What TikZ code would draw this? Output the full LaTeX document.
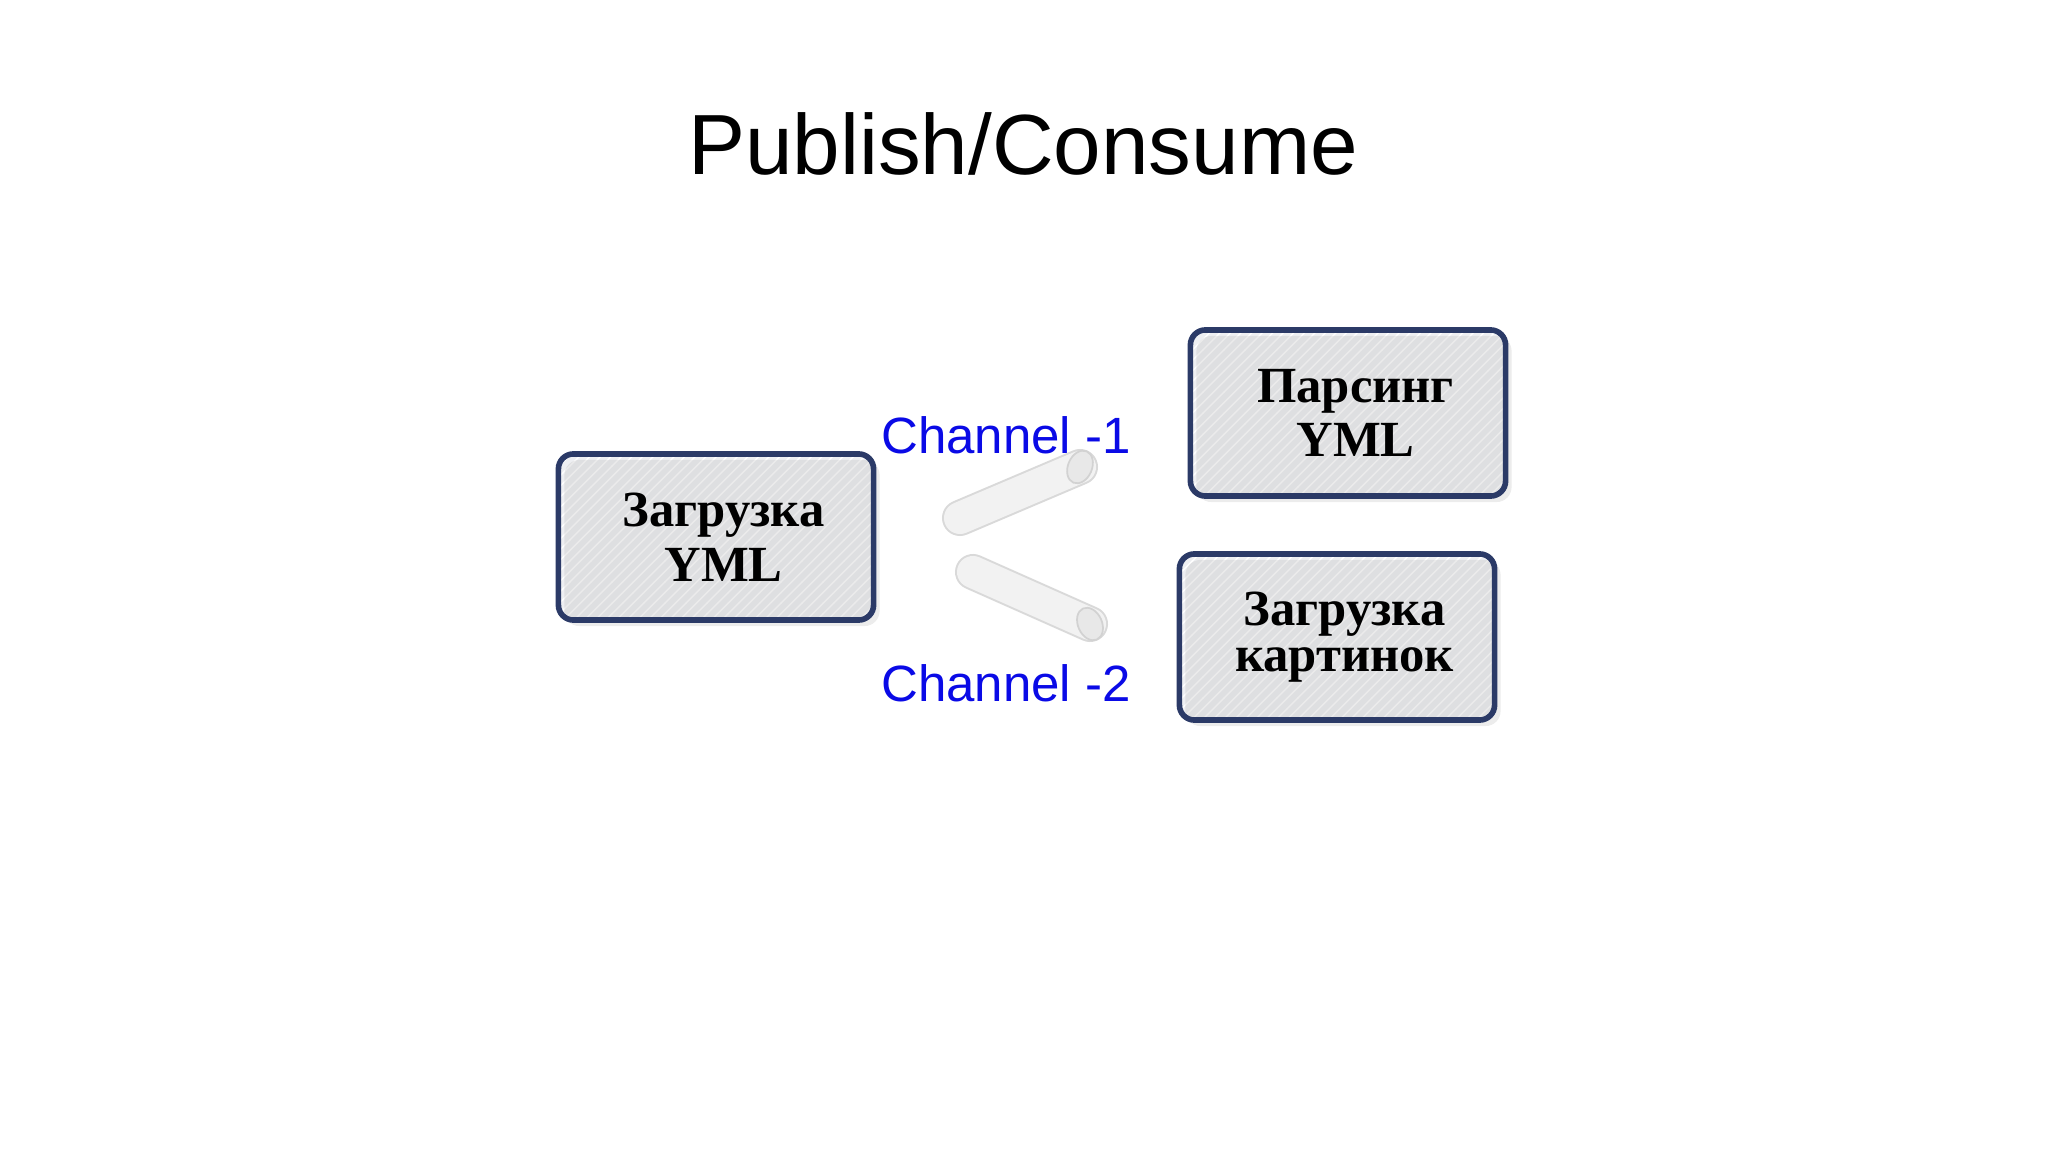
\documentclass[tikz,border=0pt]{standalone}
\usepackage{fontspec}
\setmainfont{Liberation Serif}
\newfontfamily\sansf{Liberation Sans}
\usetikzlibrary{patterns,shadows}
\definecolor{navy}{HTML}{2B3A67}
\definecolor{chblue}{RGB}{10,10,230}
\definecolor{boxfill}{HTML}{EEEFF2}
\tikzset{
  procbox/.style={draw=navy, line width=1.6pt, rounded corners=0.15cm,
    preaction={fill=boxfill},
    preaction={pattern=north east lines, pattern color=white},
    drop shadow={shadow xshift=0.06cm, shadow yshift=-0.06cm, opacity=0.25, fill=gray!60},
    minimum width=3.15cm, minimum height=1.66cm, align=center,
    font=\fontsize{14.4}{16}\selectfont\bfseries},
  chlabel/.style={text=chblue, font=\sansf\fontsize{14.5}{17}\selectfont},
  pipebody/.style={line width=0.36cm, line cap=round, draw=gray!30},
  pipefill/.style={line width=0.32cm, line cap=round, draw=gray!10},
  pipeend/.style={draw=gray!35, fill=gray!18, line width=0.5pt}
}
\begin{document}
\begin{tikzpicture}[x=0.01cm,y=-0.01cm]
\useasboundingbox (0,0) rectangle (2048,1152);
\node[font=\sansf\fontsize{24.3}{29}\selectfont] (title) at (1023,144) {Publish/Consume};
\node[procbox] (load) at (716,537) {\raisebox{-0.2cm}{\hspace{0.15cm}\shortstack{Загрузка\\YML}}};
\node[procbox] (parse) at (1348,413) {\raisebox{-0.2cm}{\hspace{0.15cm}\shortstack{Парсинг\\YML}}};
\node[procbox] (img) at (1337,637) {\raisebox{-0.2cm}{\hspace{0.15cm}\shortstack{Загрузка\\картинок}}};
\node[chlabel] (ch1) at (1006,435) {Channel -1};
\node[chlabel] (ch2) at (1006,683) {Channel -2};
\coordinate (p1a) at (960,518);
\coordinate (p1b) at (1080,467);
\coordinate (p2a) at (973,572);
\coordinate (p2b) at (1090,624);
\draw[pipebody] (p1a) -- (p1b);
\draw[pipefill] (p1a) -- (p1b);
\draw[pipeend, rotate around={-23:(p1b)}] (p1b) ellipse (0.12cm and 0.17cm);
\draw[pipebody] (p2a) -- (p2b);
\draw[pipefill] (p2a) -- (p2b);
\draw[pipeend, rotate around={24:(p2b)}] (p2b) ellipse (0.12cm and 0.17cm);
\end{tikzpicture}
\end{document}
